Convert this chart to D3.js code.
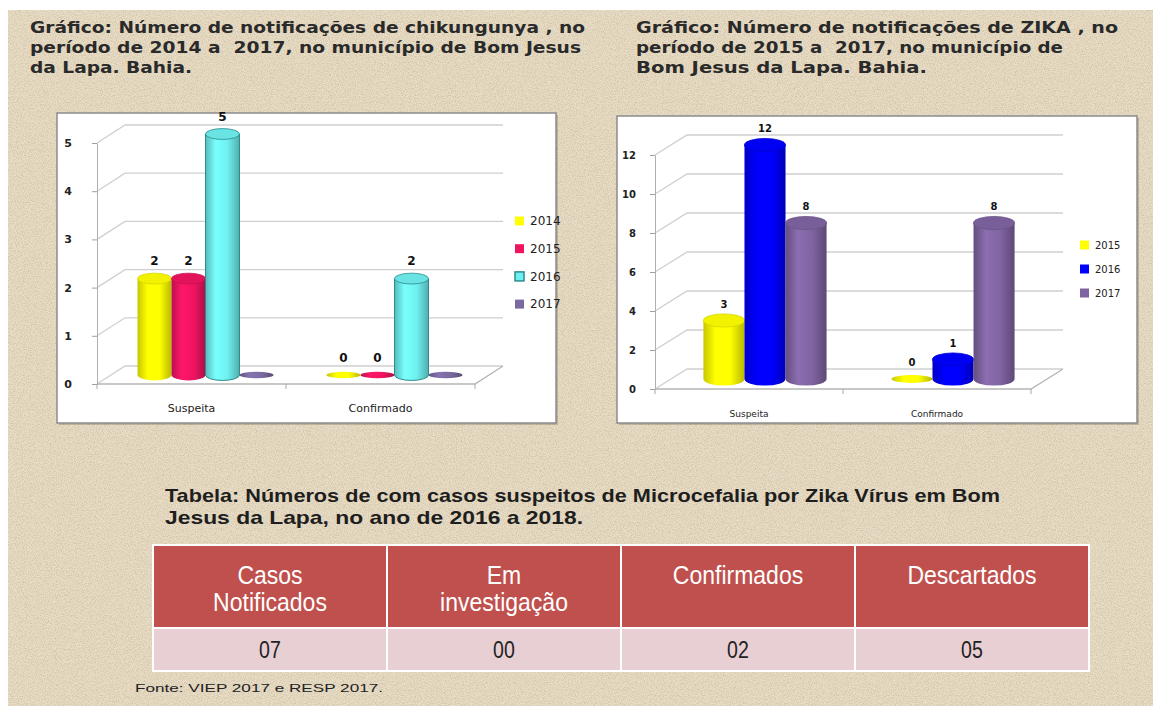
<!DOCTYPE html>
<html>
<head>
<meta charset="utf-8">
<script src="https://cdn.jsdelivr.net/npm/d3@7"></script>
<style>
  body { margin: 0; background: #fff; }
  svg { display: block; }
</style>
</head>
<body>
<div id="chart"></div>
<script>
// chikungunya chart
var chikCategories = ["Suspeita", "Confirmado"];
var chikYears = ["2014", "2015", "2016", "2017"];
var chik2014 = [2, 0];
var chik2015 = [2, 0];
var chik2016 = [5, 2];
var chik2017 = [null, null];   // flat discs, no label
var chikTicks = [0, 1, 2, 3, 4, 5];

// zika chart
var zikaCategories = ["Suspeita", "Confirmado"];
var zikaYears = ["2015", "2016", "2017"];
var zika2015 = [3, 0];
var zika2016 = [12, 1];
var zika2017 = [8, 8];
var zikaTicks = [0, 2, 4, 6, 8, 10, 12];

// microcefalia table
var tableHeaders = [["Casos", "Notificados"], ["Em", "investigação"], ["Confirmados"], ["Descartados"]];
var tableValues = ["07", "00", "02", "05"];

var title1 = ["Gráfico: Número de notificações de chikungunya , no",
              "período de 2014 a  2017, no município de Bom Jesus",
              "da Lapa. Bahia."];
var title2 = ["Gráfico: Número de notificações de ZIKA , no",
              "período de 2015 a  2017, no município de",
              "Bom Jesus da Lapa. Bahia."];
var title3 = ["Tabela: Números de com casos suspeitos de Microcefalia por Zika Vírus em Bom",
              "Jesus da Lapa, no ano de 2016 a 2018."];
var fonte = "Fonte: VIEP 2017 e RESP 2017.";

var W = 1153, H = 706;

var svg = d3.select("#chart").append("svg")
    .attr("width", W)
    .attr("height", H);

var defs = svg.append("defs");

// paper grain for the background
var grain = defs.append("filter").attr("id", "grain")
    .attr("x", 0).attr("y", 0).attr("width", 1).attr("height", 1);
grain.append("feTurbulence")
    .attr("type", "fractalNoise")
    .attr("baseFrequency", 0.85)
    .attr("numOctaves", 3)
    .attr("seed", 7);
grain.append("feColorMatrix")
    .attr("type", "matrix")
    .attr("values", "0 0 0 0 0.55  0 0 0 0 0.47  0 0 0 0 0.33  1.6 0 0 0 -0.62");

svg.append("rect").attr("width", W).attr("height", H).attr("fill", "#fff");
svg.append("rect").attr("x", 8).attr("y", 10).attr("width", W - 8).attr("height", H - 10)
    .attr("fill", "#e9ddc6");
svg.append("rect").attr("x", 8).attr("y", 10).attr("width", W - 8).attr("height", H - 10)
    .attr("filter", "url(#grain)");

// cylinder gradient
function cylGradient(id, base) {
  var c = d3.color(base);
  var g = defs.append("linearGradient").attr("id", id)
      .attr("x1", "0%").attr("x2", "100%").attr("y1", "0%").attr("y2", "0%");
  g.append("stop").attr("offset", "0%").attr("stop-color", d3.color(base).darker(0.7));
  g.append("stop").attr("offset", "30%").attr("stop-color", d3.color(base).brighter(0.25));
  g.append("stop").attr("offset", "65%").attr("stop-color", c);
  g.append("stop").attr("offset", "100%").attr("stop-color", d3.color(base).darker(0.9));
  return "url(#" + id + ")";
}

function multiLine(lines, x, y0, lh, widths, opts) {
  lines.forEach(function(t, i) {
    svg.append("text")
        .attr("x", x)
        .attr("y", y0 + i * lh)
        .attr("font-family", opts.family)
        .attr("font-weight", opts.weight)
        .attr("font-size", opts.size)
        .attr("fill", opts.color)
        .attr("textLength", widths[i])
        .attr("lengthAdjust", "spacingAndGlyphs")
        .style("white-space", "pre")
        .text(t);
  });
}

// squeeze a text to look like a narrow face
function narrow(sel, k) {
  sel.each(function() {
    var len = this.getComputedTextLength();
    d3.select(this).attr("textLength", len * k).attr("lengthAdjust", "spacingAndGlyphs");
  });
}

var titleFont = {family: "DejaVu Sans", weight: "bold", size: 16, color: "#2a2a2a"};
multiLine(title1, 30, 33, 20, [555, 551, 162], titleFont);
multiLine(title2, 636, 33, 20, [482, 427, 291], titleFont);

function chart3d(cfg) {
  var box = cfg.box;
  svg.append("rect")
      .attr("x", box[0] + 2).attr("y", box[1] + 2)
      .attr("width", box[2] - box[0]).attr("height", box[3] - box[1])
      .attr("fill", "rgba(80,70,50,0.25)");
  svg.append("rect")
      .attr("x", box[0]).attr("y", box[1])
      .attr("width", box[2] - box[0]).attr("height", box[3] - box[1])
      .attr("fill", "#fff")
      .attr("stroke", "#8c8c8c")
      .attr("stroke-width", 1.5);

  var g = svg.append("g");
  var dx = cfg.dx, dy = cfg.dy;

  var y = d3.scaleLinear().domain(d3.extent(cfg.ticks)).range(cfg.yRange);
  var x0 = d3.scaleBand().domain(cfg.categories).range(cfg.xRange);
  var x1 = d3.scaleBand().domain(cfg.years).range([0, x0.bandwidth()])
      .paddingInner(0).paddingOuter(cfg.padOuter);

  var xa = cfg.xRange[0], xb = cfg.xRange[1];

  // back wall gridlines + side wall diagonals
  cfg.ticks.forEach(function(t) {
    g.append("path")
        .attr("d", "M" + xa + "," + y(t) + "L" + (xa + dx) + "," + (y(t) + dy) +
                   "L" + (xb + dx) + "," + (y(t) + dy))
        .attr("fill", "none")
        .attr("stroke", "#cfcfcf")
        .attr("stroke-width", 1.3);
  });

  // floor front + right diagonal
  var y0 = y(0);
  g.append("path")
      .attr("d", "M" + xa + "," + y0 + "L" + xb + "," + y0 + "L" + (xb + dx) + "," + (y0 + dy))
      .attr("fill", "none")
      .attr("stroke", "#b5b5b5")
      .attr("stroke-width", 1.3);

  // category boundary ticks
  [xa].concat(cfg.categories.map(function(c) { return x0(c) + x0.bandwidth(); }))
    .forEach(function(px) {
      g.append("line")
          .attr("x1", px).attr("x2", px)
          .attr("y1", y0).attr("y2", y0 + 5)
          .attr("stroke", "#a8a8a8");
    });

  // front value axis
  var axis = g.append("g")
      .attr("transform", "translate(" + xa + ",0)")
      .call(d3.axisLeft(y).tickValues(cfg.ticks).tickFormat(d3.format("d"))
              .tickSize(5).tickSizeOuter(0).tickPadding(cfg.tickPad));
  axis.select(".domain").attr("stroke", "#b0b0b0");
  axis.selectAll(".tick line").attr("stroke", "#a0a0a0");
  axis.selectAll(".tick text")
      .attr("font-family", "DejaVu Sans")
      .attr("font-weight", "bold")
      .attr("font-size", cfg.tickFont)
      .attr("fill", "#222");

  // category labels
  g.selectAll(".cat")
      .data(cfg.categories)
    .enter().append("text")
      .attr("x", function(d) { return x0(d) + x0.bandwidth() / 2; })
      .attr("y", y0 + 28)
      .attr("text-anchor", "middle")
      .attr("font-family", "DejaVu Sans")
      .attr("font-size", cfg.catFont)
      .attr("fill", "#222")
      .text(function(d) { return d; });

  // cylinders sit at half depth
  var hx = dx / 2, hy = dy / 2;
  var w = x1.bandwidth();
  var ry = w * 0.16;

  cfg.years.forEach(function(yr, si) {
    var fill = cylGradient(cfg.id + "g" + si, cfg.colors[si]);
    var stroke = cfg.strokes[si];
    cfg.series[si].forEach(function(v, ci) {
      var bx = x0(cfg.categories[ci]) + x1(yr) + hx;
      var cx = bx + w / 2;
      var base = y0 + hy;
      if (!v) {
        g.append("ellipse")
            .attr("cx", cx).attr("cy", base)
            .attr("rx", w / 2).attr("ry", ry * 0.6)
            .attr("fill", fill)
            .attr("stroke", stroke || "none")
            .attr("stroke-width", 0.8);
      } else {
        var top = y(v) + hy;
        g.append("path")
            .attr("d", "M" + bx + "," + top + "L" + bx + "," + base +
                       "A" + (w / 2) + "," + ry + " 0 0 0 " + (bx + w) + "," + base +
                       "L" + (bx + w) + "," + top + "Z")
            .attr("fill", fill)
            .attr("stroke", stroke || "none")
            .attr("stroke-width", 1);
        g.append("ellipse")
            .attr("cx", cx).attr("cy", top)
            .attr("rx", w / 2).attr("ry", ry)
            .attr("fill", d3.color(cfg.colors[si]).darker(0.15))
            .attr("stroke", stroke || d3.color(cfg.colors[si]).darker(0.5))
            .attr("stroke-width", 0.8);
      }
      if (v !== null) {
        var ly = (v ? y(v) + hy : base) - ry - cfg.labelGap;
        g.append("text")
            .attr("x", cx)
            .attr("y", ly)
            .attr("text-anchor", "middle")
            .attr("font-family", "DejaVu Sans")
            .attr("font-weight", "bold")
            .attr("font-size", cfg.labelFont)
            .attr("fill", "#111")
            .text(v);
      }
    });
  });

  // legend
  cfg.years.forEach(function(yr, si) {
    var ly = cfg.legend[1] + si * cfg.legend[2];
    g.append("rect")
        .attr("x", cfg.legend[0]).attr("y", ly - 4.5)
        .attr("width", 9).attr("height", 9)
        .attr("fill", cfg.colors[si])
        .attr("stroke", cfg.strokes[si] || "none")
        .attr("stroke-width", 1.5);
    g.append("text")
        .attr("x", cfg.legend[0] + 15)
        .attr("y", ly)
        .attr("dy", "0.35em")
        .attr("font-family", "DejaVu Sans")
        .attr("font-size", cfg.legendFont)
        .attr("fill", "#222")
        .text(yr);
  });
}

chart3d({
  id: "chik",
  box: [57, 113, 556, 423],
  categories: chikCategories,
  years: chikYears,
  series: [chik2014, chik2015, chik2016, chik2017],
  colors: ["#ffff00", "#f01460", "#6ff0f0", "#7b6aa0"],
  strokes: [null, null, "#2c8c8c", null],
  ticks: chikTicks,
  yRange: [384, 143],
  xRange: [97, 475],
  dx: 28, dy: -18,
  padOuter: 0.78,
  tickPad: 20, tickFont: 11, catFont: 11, labelFont: 12, labelGap: 8,
  legend: [515, 221, 27.7], legendFont: 12
});

chart3d({
  id: "zika",
  box: [617, 116, 1137, 423],
  categories: zikaCategories,
  years: zikaYears,
  series: [zika2015, zika2016, zika2017],
  colors: ["#ffff00", "#0000ff", "#8064a2"],
  strokes: [null, null, null],
  ticks: zikaTicks,
  yRange: [389, 155],
  xRange: [655, 1031],
  dx: 32, dy: -20,
  padOuter: 0.79,
  tickPad: 14, tickFont: 10, catFont: 9, labelFont: 10, labelGap: 6,
  legend: [1080, 245, 24], legendFont: 10
});

// table title
multiLine(title3, 165, 502, 22,  [835, 418],
  {family: "Liberation Sans", weight: "bold", size: 19, color: "#1e1e1e"});

// table
var col = d3.scaleBand().domain(d3.range(tableValues.length)).range([153, 1089]);
var headTop = 545, headBot = 628, rowBot = 671;

var cells = svg.append("g");
tableValues.forEach(function(v, i) {
  cells.append("rect")
      .attr("x", col(i)).attr("y", headTop)
      .attr("width", col.bandwidth()).attr("height", headBot - headTop)
      .attr("fill", "#c0504d")
      .attr("stroke", "#fff").attr("stroke-width", 2);
  cells.append("rect")
      .attr("x", col(i)).attr("y", headBot)
      .attr("width", col.bandwidth()).attr("height", rowBot - headBot)
      .attr("fill", "#e8cfd3")
      .attr("stroke", "#fff").attr("stroke-width", 2);
  tableHeaders[i].forEach(function(t, j) {
    cells.append("text")
        .attr("class", "head")
        .attr("x", col(i) + col.bandwidth() / 2)
        .attr("y", 584 + j * 27)
        .attr("text-anchor", "middle")
        .attr("font-family", "Liberation Sans")
        .attr("font-size", 25)
        .attr("fill", "#fff")
        .text(t);
  });
  cells.append("text")
      .attr("class", "val")
      .attr("x", col(i) + col.bandwidth() / 2)
      .attr("y", 658)
      .attr("text-anchor", "middle")
      .attr("font-family", "Liberation Sans")
      .attr("font-size", 23)
      .attr("fill", "#222")
      .text(v);
});
narrow(cells.selectAll("text.head"), 0.92);
narrow(cells.selectAll("text.val"), 0.85);

svg.append("text")
    .attr("x", 135)
    .attr("y", 692)
    .attr("font-family", "Liberation Sans")
    .attr("font-size", 11)
    .attr("fill", "#222")
    .attr("textLength", 248)
    .attr("lengthAdjust", "spacingAndGlyphs")
    .text(fonte);
</script>
</body>
</html>
